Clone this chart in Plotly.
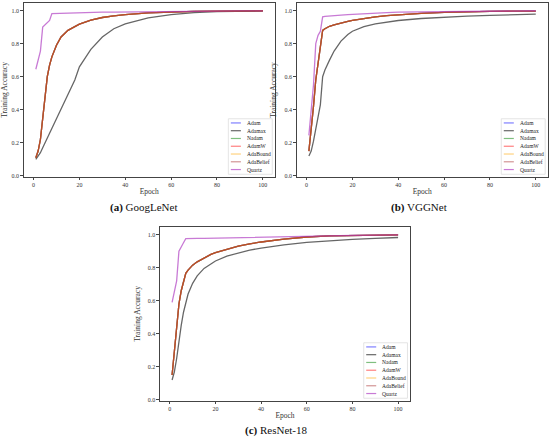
import plotly.graph_objects as go

epochs = [1, 2, 3, 4, 5, 6, 7, 8, 10, 12, 15, 18, 20, 25, 30, 35, 40, 50, 60, 70, 80, 90, 100]

# (a) GoogLeNet
adam_family_a = [0.11, 0.15, 0.22, 0.35, 0.48, 0.60, 0.67, 0.72, 0.79, 0.84, 0.88, 0.905, 0.918,
                 0.942, 0.958, 0.968, 0.976, 0.986, 0.992, 0.995, 0.997, 0.998, 0.999]
adamax_a = [0.10, 0.12, 0.14, 0.17, 0.20, 0.23, 0.26, 0.29, 0.345, 0.40, 0.49, 0.58, 0.66,
            0.765, 0.84, 0.89, 0.92, 0.956, 0.975, 0.987, 0.993, 0.996, 0.998]
quartz_a = [0.645, 0.70, 0.755, 0.90, 0.915, 0.93, 0.94, 0.982, 0.983, 0.984, 0.985, 0.986, 0.987,
            0.989, 0.99, 0.991, 0.992, 0.994, 0.995, 0.996, 0.997, 0.998, 0.998]

# (b) VGGNet
adam_family_b = [0.15, 0.27, 0.42, 0.58, 0.69, 0.78, 0.88, 0.89, 0.905, 0.913, 0.925, 0.935, 0.94,
                 0.952, 0.962, 0.969, 0.975, 0.983, 0.989, 0.993, 0.995, 0.996, 0.997]
adamax_b = [0.12, 0.15, 0.21, 0.29, 0.36, 0.43, 0.60, 0.64, 0.70, 0.755, 0.815, 0.855, 0.875,
            0.903, 0.92, 0.931, 0.94, 0.952, 0.96, 0.966, 0.971, 0.975, 0.978]
quartz_b = [0.245, 0.40, 0.55, 0.80, 0.85, 0.875, 0.962, 0.965, 0.968, 0.970, 0.973, 0.975, 0.977,
            0.982, 0.986, 0.988, 0.99, 0.992, 0.994, 0.996, 0.997, 0.998, 0.999]

# (c) ResNet-18
adam_family_c = [0.15, 0.28, 0.43, 0.58, 0.66, 0.72, 0.765, 0.785, 0.815, 0.835, 0.86, 0.88, 0.89,
                 0.912, 0.93, 0.944, 0.955, 0.972, 0.985, 0.992, 0.995, 0.997, 0.998]
adamax_c = [0.12, 0.17, 0.25, 0.36, 0.45, 0.53, 0.59, 0.64, 0.705, 0.75, 0.795, 0.825, 0.84,
            0.87, 0.89, 0.906, 0.918, 0.938, 0.953, 0.963, 0.971, 0.977, 0.982]
quartz_c = [0.59, 0.66, 0.72, 0.90, 0.93, 0.95, 0.975, 0.976, 0.976, 0.977, 0.977, 0.978, 0.978,
            0.980, 0.982, 0.983, 0.985, 0.988, 0.99, 0.993, 0.995, 0.997, 0.998]

optimizers = ["Adam", "Adamax", "Nadam", "AdamW", "AdaBound", "AdaBelief", "Quartz"]
colors = ["rgba(0,0,255,0.5)", "rgba(0,0,0,0.6)", "rgba(0,128,0,0.5)", "rgba(255,0,0,0.5)",
          "rgba(255,165,0,0.5)", "rgba(165,42,42,0.5)", "rgba(170,50,190,0.65)"]

panels = [
    ("(a)", "GoogLeNet", adam_family_a, adamax_a, quartz_a),
    ("(b)", "VGGNet", adam_family_b, adamax_b, quartz_b),
    ("(c)", "ResNet-18", adam_family_c, adamax_c, quartz_c),
]

x_domains = [[0.0413, 0.4987], [0.5387, 0.9958], [0.2896, 0.7449]]
y_domains = [[0.5975, 0.9925], [0.5975, 0.9925], [0.0873, 0.4823]]
captions_xy = [(0.261, 0.528), (0.761, 0.528), (0.501, 0.0204)]

FONT = "Liberation Serif"
fig = go.Figure()
shapes = []
annotations = []

for i, (tag, name, fam, amax, quartz) in enumerate(panels):
    suffix = "" if i == 0 else str(i + 1)
    series = [fam, amax, fam, fam, fam, fam, quartz]
    for opt, col, ys in zip(optimizers, colors, series):
        fig.add_trace(go.Scatter(x=epochs, y=ys, mode="lines", name=opt,
                                 line=dict(color=col, width=1.3),
                                 xaxis="x" + suffix, yaxis="y" + suffix,
                                 showlegend=False))

    axis_common = dict(showline=True, mirror=True, linecolor="#444", linewidth=1,
                       ticks="outside", ticklen=2.5, tickcolor="#444", showgrid=False,
                       zeroline=False, tickfont=dict(family=FONT, size=6, color="#333"))
    fig.layout["xaxis" + suffix] = dict(domain=x_domains[i], range=[-4.3, 105.2], dtick=20,
                                        anchor="y" + suffix,
                                        title=dict(text="Epoch", standoff=1,
                                                   font=dict(family=FONT, size=7.5, color="#333")),
                                        **axis_common)
    fig.layout["yaxis" + suffix] = dict(domain=y_domains[i], range=[-0.005, 1.044], dtick=0.2,
                                        tickformat=".1f", anchor="x" + suffix,
                                        title=dict(text="Training Accuracy", standoff=6,
                                                   font=dict(family=FONT, size=7.5, color="#333")),
                                        **axis_common)

    # hand-drawn legend box in axis-domain coordinates
    xr, yr = "x" + suffix + " domain", "y" + suffix + " domain"
    shapes.append(dict(type="rect", xref=xr, yref=yr, x0=0.815, x1=0.99, y0=0.014, y1=0.334,
                       line=dict(color="#ddd", width=0.8), fillcolor="rgba(255,255,255,0.8)"))
    for k, (opt, col) in enumerate(zip(optimizers, colors)):
        yk = 0.31 - k * 0.0448
        shapes.append(dict(type="line", xref=xr, yref=yr, x0=0.825, x1=0.865, y0=yk, y1=yk,
                           line=dict(color=col, width=1.2)))
        annotations.append(dict(text=opt, xref=xr, yref=yr, x=0.88, y=yk, xanchor="left",
                                yanchor="middle", showarrow=False,
                                font=dict(family=FONT, size=5.5, color="#222")))

    cx, cy = captions_xy[i]
    annotations.append(dict(text="<b>" + tag + "</b> " + name, xref="paper", yref="paper",
                            x=cx, y=cy, xanchor="center", yanchor="middle", showarrow=False,
                            font=dict(family=FONT, size=11, color="#111")))

fig.update_layout(width=550, height=441, margin=dict(l=0, r=0, t=0, b=0),
                  paper_bgcolor="white", plot_bgcolor="white", hovermode=False,
                  shapes=shapes, annotations=annotations, showlegend=False)

fig.write_html("out.html", config={"displayModeBar": False},
               post_script="document.body.style.margin='0';")
